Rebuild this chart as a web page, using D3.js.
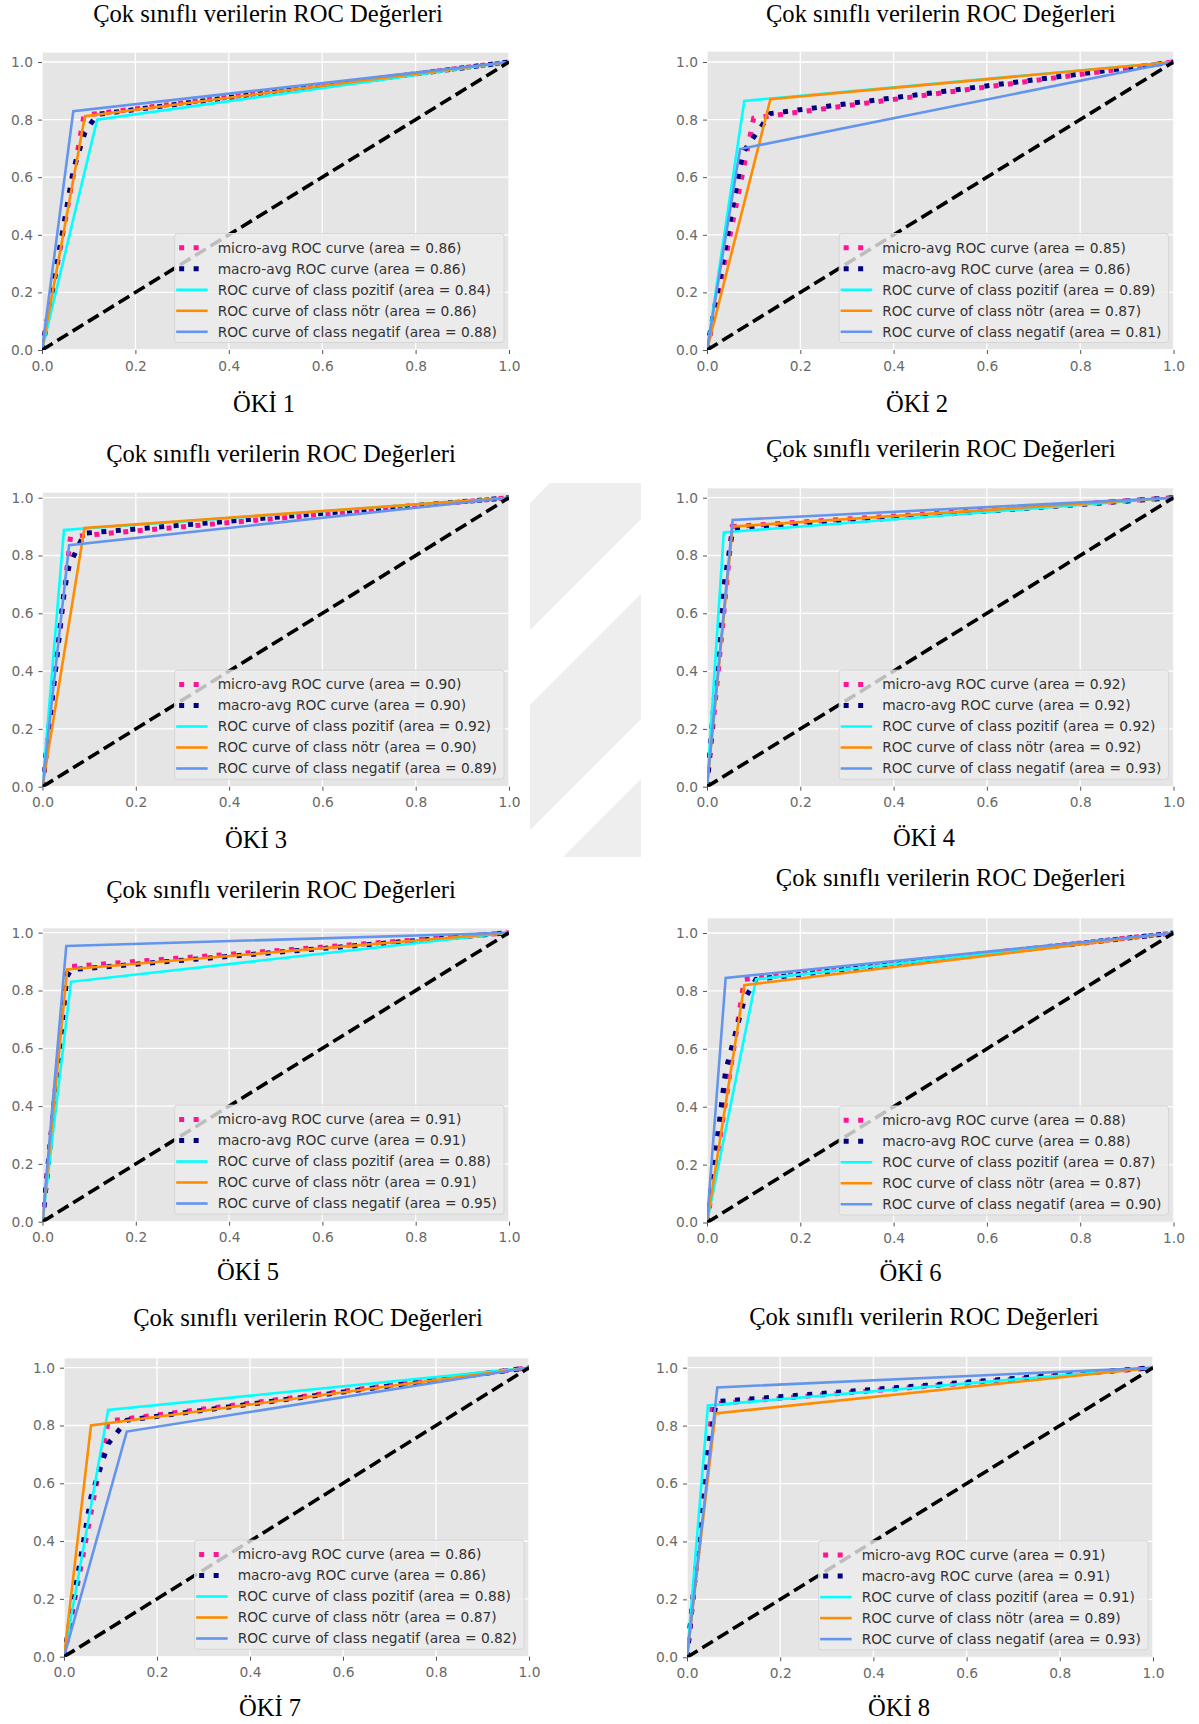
<!DOCTYPE html>
<html>
<head>
<meta charset="utf-8">
<script src="https://cdn.jsdelivr.net/npm/d3@7"></script>
<style>
  body { margin: 0; background: #ffffff; }
  svg { display: block; }
</style>
</head>
<body>
<svg id="fig" width="1199" height="1724"></svg>
<script>
// ---- data -------------------------------------------------------------
const chartTitle = "Çok sınıflı verilerin ROC Değerleri";
const panelNames = ["ÖKİ 1", "ÖKİ 2", "ÖKİ 3", "ÖKİ 4", "ÖKİ 5", "ÖKİ 6", "ÖKİ 7", "ÖKİ 8"];
const tickValues = [0, 0.2, 0.4, 0.6, 0.8, 1.0];
const tickLabels = ["0.0", "0.2", "0.4", "0.6", "0.8", "1.0"];
const seriesNames = [
  "micro-avg ROC curve",
  "macro-avg ROC curve",
  "ROC curve of class pozitif",
  "ROC curve of class nötr",
  "ROC curve of class negatif"
];

// area under each curve, one value per panel
const areaMicro   = [0.86, 0.85, 0.90, 0.92, 0.91, 0.88, 0.86, 0.91];
const areaMacro   = [0.86, 0.86, 0.90, 0.92, 0.91, 0.88, 0.86, 0.91];
const areaPozitif = [0.84, 0.89, 0.92, 0.92, 0.88, 0.87, 0.88, 0.91];
const areaNotr    = [0.86, 0.87, 0.90, 0.92, 0.91, 0.87, 0.87, 0.89];
const areaNegatif = [0.88, 0.81, 0.89, 0.93, 0.95, 0.90, 0.82, 0.93];

// operating point (false positive rate, true positive rate) of each curve
const pozitifFpr = [0.118, 0.080, 0.046, 0.036, 0.061, 0.105, 0.095, 0.045];
const pozitifTpr = [0.800, 0.865, 0.888, 0.880, 0.830, 0.840, 0.854, 0.870];
const notrFpr    = [0.092, 0.136, 0.090, 0.055, 0.053, 0.080, 0.058, 0.061];
const notrTpr    = [0.812, 0.871, 0.895, 0.900, 0.873, 0.820, 0.800, 0.842];
const negatifFpr = [0.067, 0.071, 0.057, 0.055, 0.051, 0.040, 0.135, 0.065];
const negatifTpr = [0.829, 0.698, 0.836, 0.923, 0.954, 0.845, 0.779, 0.932];
const microFpr   = [0.090, 0.100, 0.060, 0.054, 0.053, 0.080, 0.095, 0.055];
const microTpr   = [0.815, 0.805, 0.865, 0.900, 0.882, 0.840, 0.815, 0.875];

// macro-average curve knots (at the class false positive rates)
const macroFpr = [
  [0.067, 0.092, 0.118], [0.071, 0.080, 0.136], [0.046, 0.057, 0.090], [0.036, 0.055],
  [0.051, 0.053, 0.061], [0.040, 0.080, 0.105], [0.058, 0.095, 0.135], [0.045, 0.061, 0.065]
];
const macroTpr = [
  [0.625, 0.756, 0.818], [0.640, 0.693, 0.821], [0.673, 0.764, 0.877], [0.691, 0.890],
  [0.829, 0.849, 0.872], [0.525, 0.770, 0.840], [0.552, 0.737, 0.818], [0.712, 0.863, 0.883]
];

// ---- layout (pixel boxes of each panel) ---------------------------------
const layout = [
  { x0: 42,   x1: 509,    y0: 350,    y1: 62,     top: 52.7,   tx: 268,   ty: 22,   cx: 264,   cy: 412 },
  { x0: 707,  x1: 1173.5, y0: 350,    y1: 62,     top: 51.7,   tx: 940.8, ty: 22,   cx: 917,   cy: 412 },
  { x0: 42.5, x1: 509,    y0: 786.7,  y1: 497.7,  top: 492.7,  tx: 281,   ty: 462,  cx: 256,   cy: 848 },
  { x0: 707,  x1: 1173.5, y0: 786.7,  y1: 497.7,  top: 488.3,  tx: 940.8, ty: 457,  cx: 924,   cy: 846 },
  { x0: 42.5, x1: 509,    y0: 1221.7, y1: 932.7,  top: 928.3,  tx: 281,   ty: 898,  cx: 248,   cy: 1280 },
  { x0: 707,  x1: 1173.5, y0: 1222.5, y1: 933,    top: 918.3,  tx: 950.7, ty: 886,  cx: 910.5, cy: 1281 },
  { x0: 64,   x1: 529,    y0: 1656.7, y1: 1367.7, top: 1358.3, tx: 308,   ty: 1326, cx: 270,   cy: 1716 },
  { x0: 687,  x1: 1153,   y0: 1657.3, y1: 1367.7, top: 1356.7, tx: 924,   ty: 1325, cx: 899,   cy: 1716 }
];

const seriesStyle = [
  { color: "deeppink",       width: 5,   dash: "5 9.5" },
  { color: "navy",           width: 5,   dash: "5 9.5" },
  { color: "aqua",           width: 2.6, dash: null },
  { color: "darkorange",     width: 2.6, dash: null },
  { color: "cornflowerblue", width: 2.6, dash: null }
];

const serifFont = "'Liberation Serif', 'Times New Roman', serif";
const sansFont = "'DejaVu Sans', Verdana, sans-serif";

const svg = d3.select("#fig");

// ---- faint striped mark between the middle panels ----------------------
(function drawStripes() {
  const bx = 530, by = 483, bw = 111, bh = 374;
  svg.append("clipPath").attr("id", "stripe-clip")
    .append("rect").attr("x", bx).attr("y", by).attr("width", bw).attr("height", bh);
  const sg = svg.append("g").attr("clip-path", "url(#stripe-clip)");
  const bands = [[503, 630], [705, 830], [890, 1010]];
  bands.forEach(([a, b]) => {
    sg.append("polygon")
      .attr("points", [[bx, a], [bx + bw, a - bw], [bx + bw, b - bw], [bx, b]].map(p => p.join(",")).join(" "))
      .attr("fill", "#eeeeee");
  });
})();

// ---- panels ------------------------------------------------------------
layout.forEach((L, p) => {
  const x = d3.scaleLinear().domain([0, 1]).range([L.x0, L.x1]);
  const y = d3.scaleLinear().domain([0, 1]).range([L.y0, L.y1]);
  const g = svg.append("g");

  // titles
  g.append("text").attr("x", L.tx).attr("y", L.ty)
    .attr("text-anchor", "middle").attr("font-family", serifFont)
    .attr("font-size", 24.6).attr("fill", "#000").text(chartTitle);
  g.append("text").attr("x", L.cx).attr("y", L.cy)
    .attr("text-anchor", "middle").attr("font-family", serifFont)
    .attr("font-size", 24.6).attr("fill", "#000").text(panelNames[p]);

  // plot background
  const clipId = "clip-" + p;
  g.append("clipPath").attr("id", clipId)
    .append("rect").attr("x", L.x0).attr("y", L.top)
    .attr("width", L.x1 - L.x0).attr("height", L.y0 - L.top);
  g.append("rect").attr("x", L.x0).attr("y", L.top)
    .attr("width", L.x1 - L.x0).attr("height", L.y0 - L.top)
    .attr("fill", "#e5e5e5");

  const plot = g.append("g").attr("clip-path", `url(#${clipId})`);

  // grid
  plot.selectAll(".vgrid").data(tickValues).join("line")
    .attr("x1", d => x(d)).attr("x2", d => x(d))
    .attr("y1", L.top).attr("y2", L.y0)
    .attr("stroke", "#ffffff").attr("stroke-width", 1.3);
  plot.selectAll(".hgrid").data(tickValues).join("line")
    .attr("x1", L.x0).attr("x2", L.x1)
    .attr("y1", d => y(d)).attr("y2", d => y(d))
    .attr("stroke", "#ffffff").attr("stroke-width", 1.3);

  // axes
  const styleAxis = sel => {
    sel.select(".domain").remove();
    sel.selectAll(".tick line").attr("stroke", "#555555").attr("stroke-width", 1);
    sel.selectAll(".tick text").attr("fill", "#6a6a6a")
      .attr("font-family", sansFont).attr("font-size", 13.8);
  };
  g.append("g").attr("transform", `translate(0,${L.y0})`)
    .call(d3.axisBottom(x).tickValues(tickValues).tickFormat((d, i) => tickLabels[i])
      .tickSize(4).tickPadding(7))
    .call(styleAxis);
  g.append("g").attr("transform", `translate(${L.x0},0)`)
    .call(d3.axisLeft(y).tickValues(tickValues).tickFormat((d, i) => tickLabels[i])
      .tickSize(4).tickPadding(5))
    .call(styleAxis);

  // curves
  const curves = [
    [[0, 0], [microFpr[p], microTpr[p]], [1, 1]],
    [[0, 0]].concat(macroFpr[p].map((f, i) => [f, macroTpr[p][i]])).concat([[1, 1]]),
    [[0, 0], [pozitifFpr[p], pozitifTpr[p]], [1, 1]],
    [[0, 0], [notrFpr[p], notrTpr[p]], [1, 1]],
    [[0, 0], [negatifFpr[p], negatifTpr[p]], [1, 1]]
  ];
  const line = d3.line().x(d => x(d[0])).y(d => y(d[1]));
  curves.forEach((pts, i) => {
    const st = seriesStyle[i];
    plot.append("path").attr("d", line(pts))
      .attr("fill", "none").attr("stroke", st.color)
      .attr("stroke-width", st.width)
      .attr("stroke-dasharray", st.dash)
      .attr("stroke-linejoin", "miter")
      .attr("stroke-linecap", "butt");
  });

  // chance diagonal
  plot.append("path").attr("d", line([[0, 0], [1, 1]]))
    .attr("fill", "none").attr("stroke", "#000000")
    .attr("stroke-width", 3.6).attr("stroke-dasharray", "12.5 5.5");

  // legend
  const areas = [areaMicro[p], areaMacro[p], areaPozitif[p], areaNotr[p], areaNegatif[p]];
  const labels = seriesNames.map((n, i) => `${n} (area = ${areas[i].toFixed(2)})`);
  const lg = g.append("g");
  const bgRect = lg.append("rect");
  const texts = labels.map(t => lg.append("text")
    .attr("font-family", sansFont).attr("font-size", 13.8)
    .attr("fill", "#333333").text(t));
  const maxW = d3.max(texts, t => t.node().getComputedTextLength());
  const boxW = 43 + maxW + 7;
  const boxH = 109;
  const right = L.x1 - 5, bottom = L.y0 - 7.5;
  const left = right - boxW, topB = bottom - boxH;
  bgRect.attr("x", left).attr("y", topB).attr("width", boxW).attr("height", boxH)
    .attr("rx", 3).attr("fill", "rgba(236,236,236,0.8)")
    .attr("stroke", "#d6d6d6").attr("stroke-width", 1);
  texts.forEach((t, i) => {
    const cy = topB + 14.3 + i * 21;
    t.attr("x", left + 43).attr("y", cy).attr("dy", "0.36em");
    const st = seriesStyle[i];
    if (st.dash) {
      lg.append("line").attr("x1", left + 4.5).attr("x2", left + 32.5)
        .attr("y1", cy).attr("y2", cy)
        .attr("stroke", st.color).attr("stroke-width", st.width)
        .attr("stroke-dasharray", st.dash);
    } else {
      lg.append("line").attr("x1", left + 1.5).attr("x2", left + 33)
        .attr("y1", cy).attr("y2", cy)
        .attr("stroke", st.color).attr("stroke-width", st.width);
    }
  });
});
</script>
</body>
</html>
